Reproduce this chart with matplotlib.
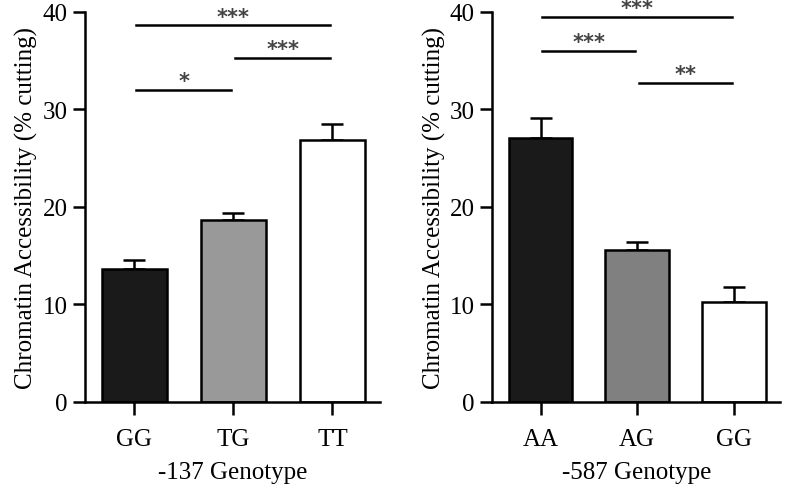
import numpy as np
import matplotlib
matplotlib.use("Agg")
import matplotlib.pyplot as plt

plt.rcParams['font.family'] = ['Liberation Serif', 'DejaVu Serif']

# left panel: -137 genotype
cats_137 = ['GG', 'TG', 'TT']
vals_137 = [13.6, 18.6, 26.9]
err_137 = [0.9, 0.8, 1.6]
cols_137 = ['#1a1a1a', '#999999', '#ffffff']
# significance bars: (from, to, height, label)
sig_137 = [(0, 2, 38.6, '***'), (1, 2, 35.3, '***'), (0, 1, 32.0, '*')]

# right panel: -587 genotype
cats_587 = ['AA', 'AG', 'GG']
vals_587 = [27.1, 15.6, 10.2]
err_587 = [2.0, 0.8, 1.6]
cols_587 = ['#1a1a1a', '#808080', '#ffffff']
sig_587 = [(0, 2, 39.5, '***'), (0, 1, 36.0, '***'), (1, 2, 32.7, '**')]

fig = plt.figure(figsize=(7.85, 4.89), dpi=100)
ax1 = fig.add_axes([0.108, 0.176, 0.376, 0.798])
ax2 = fig.add_axes([0.627, 0.176, 0.367, 0.798])


def draw(ax, cats, vals, errs, cols, sigs, xlabel):
    x = np.arange(len(cats))
    ax.bar(x, vals, width=0.66, color=cols, edgecolor='black', linewidth=1.8, zorder=2)
    ax.errorbar(x, vals, yerr=[np.zeros(len(vals)), errs], fmt='none',
                ecolor='black', elinewidth=1.8, capsize=8, capthick=1.8, zorder=1)
    for a, b, h, lab in sigs:
        ax.plot([a + 0.02, b - 0.02], [h, h], color='black', lw=1.8, clip_on=False)
        ax.annotate(lab, xy=((a + b) / 2, h), xytext=(0, 2), textcoords='offset points',
                    ha='center', va='baseline', fontsize=15, color='#444444',
                    family='DejaVu Sans', fontweight='bold')
    ax.set_xlim(-0.5, 2.48)
    ax.set_ylim(0, 40)
    ax.set_yticks([0, 10, 20, 30, 40])
    ax.set_xticks(x)
    ax.set_xticklabels(cats)
    ax.spines['top'].set_visible(False)
    ax.spines['right'].set_visible(False)
    for s in ['left', 'bottom']:
        ax.spines[s].set_linewidth(1.8)
    ax.tick_params(axis='both', direction='out', length=9, width=1.8, labelsize=18)
    ax.tick_params(axis='x', pad=10)
    ax.set_ylabel('Chromatin Accessibility (% cutting)', fontsize=18, labelpad=3)
    ax.set_xlabel(xlabel, fontsize=18, labelpad=8)


draw(ax1, cats_137, vals_137, err_137, cols_137, sig_137, '-137 Genotype')
draw(ax2, cats_587, vals_587, err_587, cols_587, sig_587, '-587 Genotype')

fig.savefig('out.png', dpi=100)
